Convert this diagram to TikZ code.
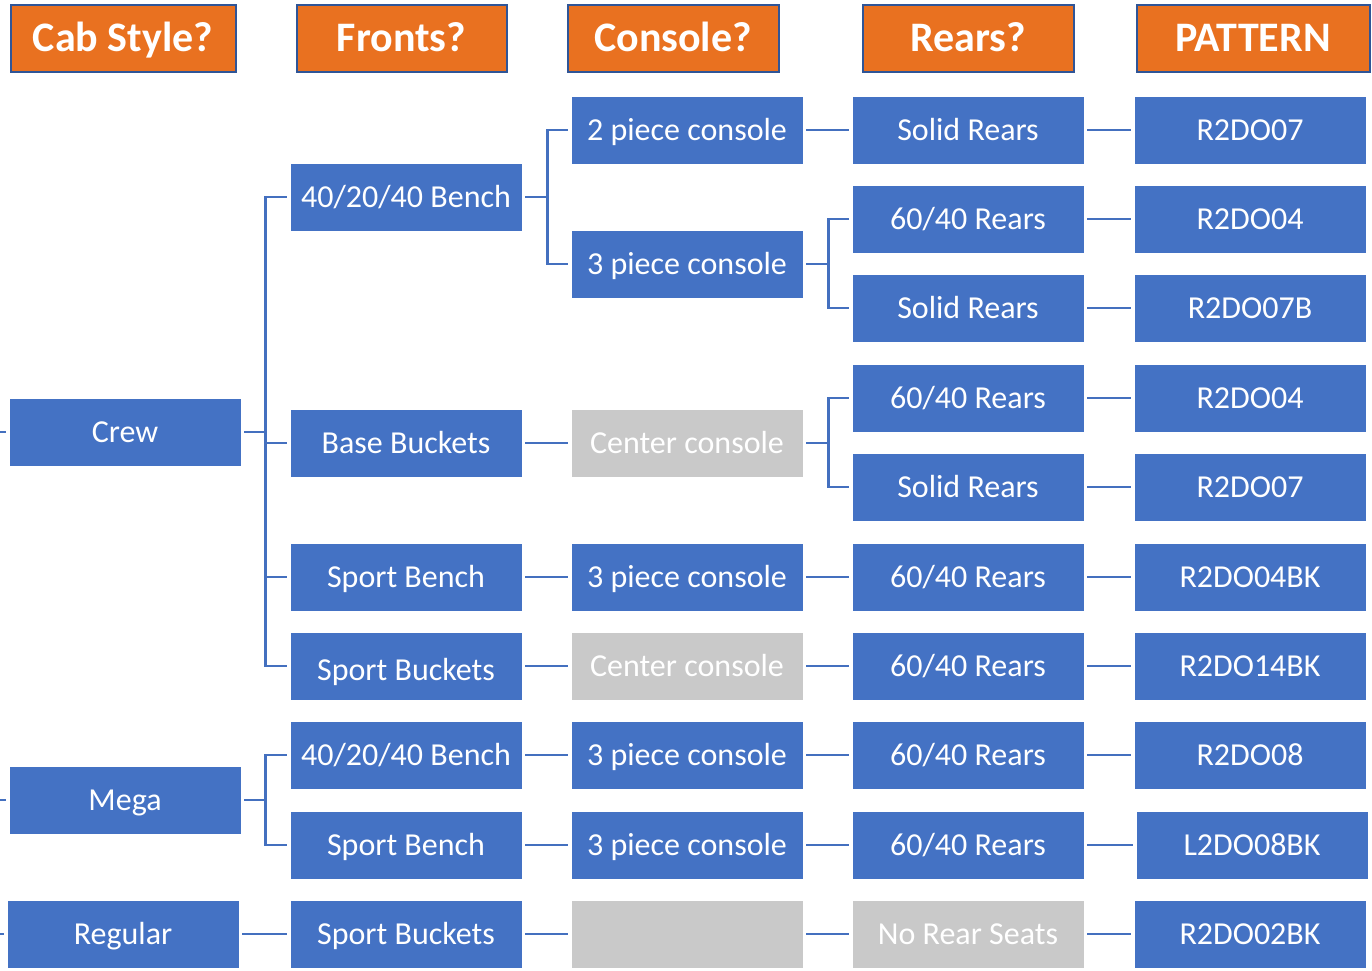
\documentclass[tikz,border=0pt]{standalone}
\usepackage{fontspec}
\setmainfont{Carlito}
\definecolor{boxblue}{HTML}{4472C4}
\definecolor{linecol}{HTML}{4470BF}
\definecolor{hdrorange}{HTML}{E97120}
\definecolor{hdrborder}{HTML}{2F5597}
\definecolor{boxgray}{HTML}{C9C9C9}
\begin{document}
\begin{tikzpicture}[x=1pt,y=-1pt,
  bx/.style={rectangle,fill=boxblue,draw=white,line width=0.8pt,minimum width=232pt,minimum height=68pt,inner sep=0pt,text=white,text height=20.5pt,text depth=0pt,font=\fontsize{32}{36}\selectfont},
  gbx/.style={bx,fill=boxgray},
  hdr/.style={rectangle,fill=hdrorange,draw=hdrborder,line width=2pt,minimum height=67pt,inner sep=0pt,text=white,text height=27pt,text depth=0pt,font=\fontsize{42}{46}\selectfont\bfseries},
  conn/.style={draw=linecol,line width=2.4pt}]
\useasboundingbox (0,0) rectangle (1372,970);
% headers
\node[hdr,minimum width=225pt] (h1) at (123,38) {Cab Style?};
\node[hdr,minimum width=210pt] (h2) at (401.5,38) {Fronts?};
\node[hdr,minimum width=211pt] (h3) at (673,38) {Console?};
\node[hdr,minimum width=211pt] (h4) at (968,38) {Rears?};
\node[hdr,minimum width=233pt] (h5) at (1253,38) {PATTERN};
% column 1
\node[bx] (crew) at (125,432) {Crew};
\node[bx] (mega) at (125,800) {Mega};
\node[bx] (reg) at (123,934) {Regular};
% column 2
\node[bx] (f1) at (406,197) {40/20/40 Bench};
\node[bx] (f2) at (406,443) {Base Buckets};
\node[bx] (f3) at (406,577) {Sport Bench};
\node[bx] (f4) at (406,666) {\raisebox{-4pt}{Sport Buckets}};
\node[bx] (f5) at (406,755) {40/20/40 Bench};
\node[bx] (f6) at (406,845) {Sport Bench};
\node[bx] (f7) at (406,934) {Sport Buckets};
% column 3
\node[bx] (c1) at (687,130) {2 piece console};
\node[bx] (c2) at (687,264) {3 piece console};
\node[gbx] (c3) at (687,443) {Center console};
\node[bx] (c4) at (687,577) {3 piece console};
\node[gbx] (c5) at (687,666) {Center console};
\node[bx] (c6) at (687,755) {3 piece console};
\node[bx] (c7) at (687,845) {3 piece console};
\node[gbx] (c8) at (687,934) {};
% column 4
\node[bx] (r1) at (968,130) {Solid Rears};
\node[bx] (r2) at (968,219) {60/40 Rears};
\node[bx] (r3) at (968,308) {Solid Rears};
\node[bx] (r4) at (968,398) {60/40 Rears};
\node[bx] (r5) at (968,487) {Solid Rears};
\node[bx] (r6) at (968,577) {60/40 Rears};
\node[bx] (r7) at (968,666) {60/40 Rears};
\node[bx] (r8) at (968,755) {60/40 Rears};
\node[bx] (r9) at (968,845) {60/40 Rears};
\node[gbx] (r10) at (968,934) {No Rear Seats};
% column 5
\node[bx] (p1) at (1250,130) {R2DO07};
\node[bx] (p2) at (1250,219) {R2DO04};
\node[bx] (p3) at (1250,308) {R2DO07B};
\node[bx] (p4) at (1250,398) {R2DO04};
\node[bx] (p5) at (1250,487) {R2DO07};
\node[bx] (p6) at (1250,577) {R2DO04BK};
\node[bx] (p7) at (1250,666) {R2DO14BK};
\node[bx] (p8) at (1250,755) {R2DO08};
\node[bx] (p9) at (1252,845) {L2DO08BK};
\node[bx] (p10) at (1250,934) {R2DO02BK};
% left stubs
\coordinate (s1) at (0,432);
\coordinate (s2) at (0,800);
\coordinate (s3) at (0,934);
\draw[conn] (s1) -- ([xshift=-3pt]crew.west);
\draw[conn] (s2) -- ([xshift=-3pt]mega.west);
\draw[conn] (s3) -- ([xshift=-3pt]reg.west);
% elbows col1 -> col2
\foreach \t in {f1,f2,f3,f4}
  \draw[conn] ([xshift=3pt]crew.east) -- ++(21,0) |- ([xshift=-3pt]\t.west);
\foreach \t in {f5,f6}
  \draw[conn] ([xshift=3pt]mega.east) -- ++(21,0) |- ([xshift=-3pt]\t.west);
\draw[conn] ([xshift=3pt]reg.east) -- ([xshift=-3pt]f7.west);
% col2 -> col3
\foreach \t in {c1,c2}
  \draw[conn] ([xshift=3pt]f1.east) -- ++(22,0) |- ([xshift=-3pt]\t.west);
\draw[conn] ([xshift=3pt]f2.east) -- ([xshift=-3pt]c3.west);
\draw[conn] ([xshift=3pt]f3.east) -- ([xshift=-3pt]c4.west);
\draw[conn] ([xshift=3pt]f4.east) -- ([xshift=-3pt]c5.west);
\draw[conn] ([xshift=3pt]f5.east) -- ([xshift=-3pt]c6.west);
\draw[conn] ([xshift=3pt]f6.east) -- ([xshift=-3pt]c7.west);
\draw[conn] ([xshift=3pt]f7.east) -- ([xshift=-3pt]c8.west);
% col3 -> col4
\draw[conn] ([xshift=3pt]c1.east) -- ([xshift=-3pt]r1.west);
\foreach \t in {r2,r3}
  \draw[conn] ([xshift=3pt]c2.east) -- ++(22,0) |- ([xshift=-3pt]\t.west);
\foreach \t in {r4,r5}
  \draw[conn] ([xshift=3pt]c3.east) -- ++(22,0) |- ([xshift=-3pt]\t.west);
\draw[conn] ([xshift=3pt]c4.east) -- ([xshift=-3pt]r6.west);
\draw[conn] ([xshift=3pt]c5.east) -- ([xshift=-3pt]r7.west);
\draw[conn] ([xshift=3pt]c6.east) -- ([xshift=-3pt]r8.west);
\draw[conn] ([xshift=3pt]c7.east) -- ([xshift=-3pt]r9.west);
\draw[conn] ([xshift=3pt]c8.east) -- ([xshift=-3pt]r10.west);
% col4 -> col5
\foreach \i in {1,...,10}
  \draw[conn] ([xshift=3pt]r\i.east) -- ([xshift=-3pt]p\i.west);
\end{tikzpicture}
\end{document}
